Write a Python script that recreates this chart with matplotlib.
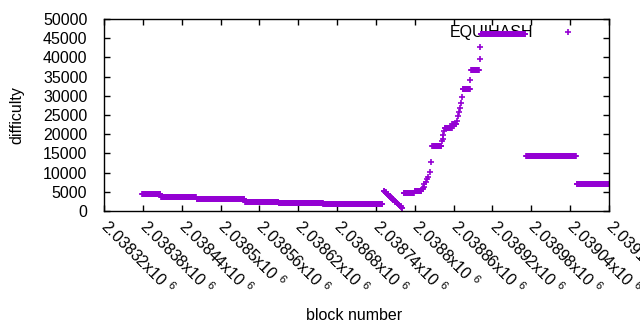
import numpy as np
import matplotlib
matplotlib.use('Agg')
import matplotlib.pyplot as plt

plt.rcParams['font.family'] = ['Liberation Sans', 'DejaVu Sans']
plt.rcParams['mathtext.fontset'] = 'custom'
plt.rcParams['mathtext.rm'] = 'Liberation Sans'

# Flat runs: one point per block, constant difficulty over [start, end]
run_start = [2038379, 2038408, 2038463, 2038538, 2038590, 2038659, 2038783, 2038800,
             2038827, 2038846, 2038858, 2038874, 2038887, 2038902, 2038972, 2039050]
run_end = [2038407, 2038462, 2038537, 2038589, 2038658, 2038750, 2038799, 2038810,
           2038841, 2038857, 2038864, 2038885, 2038899, 2038971, 2039049, 2039100]
run_diff = [4350, 3520, 3050, 2470, 2200, 1900, 4800, 5200,
            17000, 21500, 22700, 31700, 36600, 46000, 14200, 6950]

# Declining stretch, consecutive blocks starting here
decline_first_block = 2038752
decline_diff = [5300, 5140, 4980, 4830, 4670, 4510, 4350, 4190, 4030, 3870,
                3710, 3560, 3400, 3240, 3080, 2920, 2760, 2600, 2450, 2290,
                2130, 1970, 1810, 1650, 1490, 1340, 1180, 1020, 860, 700]

# Individually read blocks on the ramp
rise_block = [2038812, 2038813, 2038814, 2038815, 2038817, 2038819, 2038820, 2038823,
              2038825, 2038842, 2038843, 2038844, 2038845, 2038865, 2038867, 2038868,
              2038870, 2038872, 2038873, 2038886, 2038900, 2038901]
rise_diff = [5600, 6000, 6300, 7000, 7600, 8300, 8900, 10100,
             12700, 18200, 18750, 19800, 20900, 23500, 24700, 25900,
             26700, 28200, 29600, 34000, 39500, 42600]

x_ticks = [2038320, 2038380, 2038440, 2038500, 2038560, 2038620, 2038680,
           2038740, 2038800, 2038860, 2038920, 2038980, 2039040, 2039100]
y_ticks = [0, 5000, 10000, 15000, 20000, 25000, 30000, 35000, 40000, 45000, 50000]

# assemble series
xs, ys = [], []
for s, e, d in zip(run_start, run_end, run_diff):
    for b in range(s, e + 1):
        xs.append(b)
        ys.append(d)
for i, d in enumerate(decline_diff):
    xs.append(decline_first_block + i)
    ys.append(d)
xs += rise_block
ys += rise_diff

FS = 11.5
color = '#9400d3'
fig = plt.figure(figsize=(6.4, 3.3), dpi=100)
ax = fig.add_axes([104/640, 1 - 211/330, 505/640, 192/330])
ax.plot(xs, ys, linestyle='none', marker='+', color=color, ms=5, mew=1.2)

ax.set_xlim(x_ticks[0], x_ticks[-1])
ax.set_ylim(0, 50000)
ax.set_xticks(x_ticks)
ax.set_yticks(y_ticks)
ax.set_yticklabels([str(v) for v in y_ticks], fontsize=FS)
xlabels = ['%.6gx10 $^{\\mathregular{6}}$' % (v / 1e6) for v in x_ticks]
ax.set_xticklabels(xlabels, fontsize=FS, rotation=-45, ha='left', va='center',
                   rotation_mode='anchor')
ax.tick_params(direction='in', length=4, width=1, top=True, right=True, pad=9)
ax.tick_params(axis='y', pad=12)
for sp in ax.spines.values():
    sp.set_linewidth(1)

# key
ax.text(0.8495, 0.932, 'EQUIHASH', transform=ax.transAxes, ha='right', va='center',
        fontsize=FS, color='#000000', zorder=1)
ax.plot([0.918], [0.932], transform=ax.transAxes, linestyle='none', marker='+',
        color=color, ms=5, mew=1.2, clip_on=False)

fig.text(354/640, 1 - 316/330, 'block number', ha='center', va='center', fontsize=FS)
fig.text(17/640, 1 - 115/330, 'difficulty', ha='center', va='center', fontsize=FS,
         rotation=90)

fig.savefig('out.png', dpi=100)
